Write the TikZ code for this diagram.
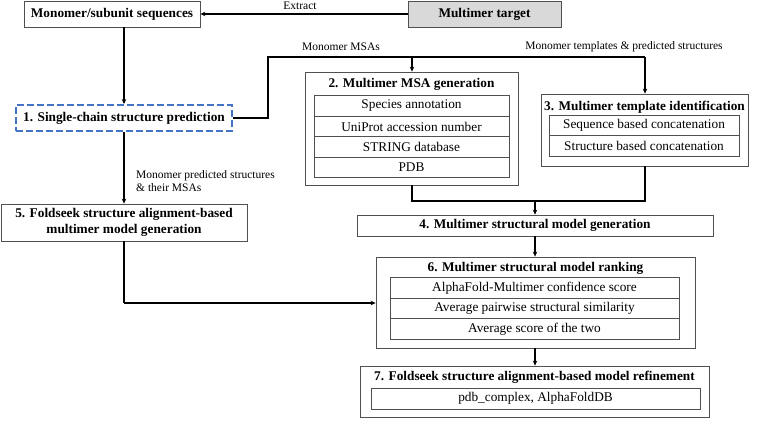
\documentclass[tikz,border=0pt]{standalone}
\usepackage{fontspec}
\setmainfont{Liberation Serif}
\usetikzlibrary{arrows.meta}
\definecolor{dashblue}{RGB}{68,114,196}
\definecolor{boxgray}{RGB}{80,80,80}
\definecolor{fillgray}{RGB}{217,217,217}
\tikzset{
  box/.style={draw=boxgray, line width=0.8pt, inner sep=0pt, fill=white},
  bfnt/.style={font=\bfseries\fontsize{13.3}{15.5}\selectfont},
  rowbox/.style={draw=boxgray, line width=0.8pt, inner sep=0pt, font=\fontsize{13.3}{15}\selectfont},
  ttl/.style={inner sep=0pt, bfnt},
  lbl/.style={inner sep=0pt, font=\fontsize{11.5}{13.5}\selectfont},
  conn/.style={line width=2pt, black},
  arr/.style={conn, -{Stealth[length=5pt,width=4.5pt]}}
}
\begin{document}
\begin{tikzpicture}[x=1pt,y=-1pt]
\useasboundingbox (0,0) rectangle (760,423);
% top boxes
\node[box, minimum width=176pt, minimum height=26pt, bfnt] (mono) at (112,14) {Monomer/subunit sequences};
\node[box, fill=fillgray, minimum width=153pt, minimum height=26pt, bfnt] (target) at (484.5,14) {Multimer target};
\node[box, draw=dashblue, dash pattern=on 7pt off 3pt, line width=2pt, minimum width=216pt, minimum height=26pt, bfnt] (single) at (124,118) {1. Single-chain structure prediction};
% box 2
\node[box, minimum width=213pt, minimum height=113pt] (b2) at (411.5,128.5) {};
\node[ttl] (b2t) at (411.5,84) {2. Multimer MSA generation};
\node[rowbox, minimum width=195pt, minimum height=20.5pt] (b2a) at (411.5,106) {Species annotation};
\node[rowbox, minimum width=195pt, minimum height=20.5pt] (b2b) at (411.5,126.5) {UniProt accession number};
\node[rowbox, minimum width=195pt, minimum height=20.5pt] (b2c) at (411.5,147) {STRING database};
\node[rowbox, minimum width=195pt, minimum height=20.5pt] (b2d) at (411.5,167.5) {PDB};
% box 3
\node[box, minimum width=207pt, minimum height=72pt] (b3) at (644.5,130) {};
\node[ttl] (b3t) at (644.5,107) {3. Multimer template identification};
\node[rowbox, minimum width=190pt, minimum height=20.5pt] (b3a) at (644,125.5) {Sequence based concatenation};
\node[rowbox, minimum width=190pt, minimum height=20.5pt] (b3b) at (644,146) {Structure based concatenation};
% box 4
\node[box, minimum width=356pt, minimum height=21pt, bfnt] (b4) at (535,225.5) {4. Multimer structural model generation};
% box 5
\node[box, minimum width=246pt, minimum height=37pt, align=center, bfnt] (b5) at (124,222.5) {5. Foldseek structure alignment-based\\multimer model generation};
% box 6
\node[box, minimum width=319pt, minimum height=91pt] (b6) at (535.5,302.5) {};
\node[ttl] (b6t) at (535.5,268.5) {6. Multimer structural model ranking};
\node[rowbox, minimum width=289pt, minimum height=20.5pt] (b6a) at (534.5,288) {AlphaFold-Multimer confidence score};
\node[rowbox, minimum width=289pt, minimum height=20.5pt] (b6b) at (534.5,308.5) {Average pairwise structural similarity};
\node[rowbox, minimum width=289pt, minimum height=20.5pt] (b6c) at (534.5,329) {Average score of the two};
% box 7
\node[box, minimum width=349pt, minimum height=51pt] (b7) at (534.5,391.5) {};
\node[ttl] (b7t) at (534.5,377.5) {7. Foldseek structure alignment-based model refinement};
\node[rowbox, minimum width=329pt, minimum height=21pt] (b7a) at (535.5,398.5) {pdb\_complex, AlphaFoldDB};
% labels
\node[lbl] (lext) at (300,5.5) {Extract};
\node[lbl] (lmsa) at (341,47) {Monomer MSAs};
\node[lbl] (ltpl) at (624,47) {Monomer templates \& predicted structures};
\node[lbl, align=left, anchor=west] (lpred) at (136,181) {Monomer predicted structures\\\& their MSAs};
% coordinates
\coordinate (c1) at (268,118);
\coordinate (c2) at (268,57);
\coordinate (c3) at (412,57);
\coordinate (c4) at (645,57);
\coordinate (m1) at (412,201);
\coordinate (m2) at (645,201);
\coordinate (m3) at (535,201);
\coordinate (d1) at (124,303);
% connectors
\draw[arr] (target.west) -- (mono.east);
\draw[arr] (single.north |- mono.south) -- (single.north);
\draw[conn] (single.east) -- (c1) -- (c2) -- (c4);
\draw[arr] (c4) -- (c4 |- b3.north);
\draw[arr] (c3) -- (c3 |- b2.north);
\draw[arr] (single.south) -- (b5.north);
\draw[conn] (b2.south -| m1) -- (m1) -- (m2) -- (b3.south -| m2);
\draw[arr] (m3) -- (b4.north);
\draw[arr] (b4.south) -- (b6.north -| b4.south);
\draw[conn] (b5.south) -- (d1);
\draw[arr] (d1) -- (d1 -| b6.west);
\draw[arr] (b6.south -| b4.south) -- (b7.north -| b4.south);
\end{tikzpicture}
\end{document}
